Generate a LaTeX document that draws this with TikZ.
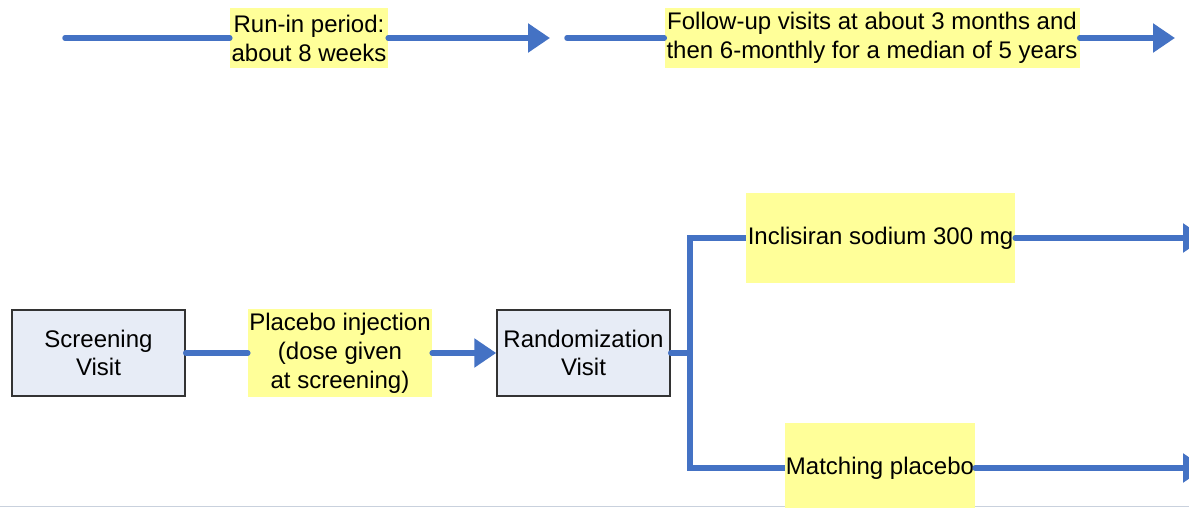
\documentclass[tikz,border=0pt]{standalone}
\usepackage{fontspec}
\setmainfont{Liberation Sans}
\usetikzlibrary{arrows.meta}
\definecolor{flowblue}{HTML}{4472C4}
\definecolor{noteyellow}{HTML}{FFFF99}
\definecolor{visitfill}{HTML}{E7ECF6}
\definecolor{edgegray}{HTML}{C9D1DD}
\begin{document}
\begin{tikzpicture}[x=1pt,y=-1pt,
  flow/.style={draw=flowblue, line width=5.5pt, line cap=round},
  flowarrow/.style={flow, -{Triangle[length=22pt,width=28pt]}},
  note/.style={fill=noteyellow, inner sep=0pt, align=center, font=\fontsize{24}{29}\selectfont},
  visit/.style={draw=black!80, line width=1.5pt, fill=visitfill, align=center,
    font=\fontsize{24}{27.5}\selectfont, minimum width=173pt, minimum height=86pt, inner sep=0pt}]
\useasboundingbox (0,0) rectangle (1189,508);

% bottom edge line
\coordinate (bl) at (0,506.5);
\coordinate (br) at (1189,506.5);
\draw[edgegray, line width=1pt] (bl) -- (br);

% top timeline
\coordinate (s1) at (65,38);
\coordinate (e1) at (550,38);
\coordinate (s2) at (567,38);
\coordinate (e2) at (1175,38);
\node[note, minimum width=158pt, minimum height=60pt] (run) at (309,38) {Run-in period:\\about 8 weeks};
\node[note, minimum width=415pt, minimum height=60pt] (fu) at (872,38) {Follow-up visits at about 3 months and\\then 6-monthly for a median of 5 years};
\draw[flow] (s1) -- (run.west);
\draw[flowarrow] (run.east) -- (e1);
\draw[flow] (s2) -- (fu.west);
\draw[flowarrow] (fu.east) -- (e2);

% lower flow
\node[visit] (scr) at (98.5,353) {Screening\\Visit};
\node[visit] (rand) at (583.5,353) {Randomization\\Visit};
\node[note, minimum width=184pt, minimum height=88pt] (plc) at (340,353) {Placebo injection\\(dose given\\at screening)};
\node[note, minimum width=269pt, minimum height=90pt] (incl) at (880.5,238) {Inclisiran sodium 300 mg};
\node[note, minimum width=190pt, minimum height=90pt] (match) at (880,468) {Matching placebo};

\coordinate (j) at (690,353);
\coordinate (bt) at (690,238);
\coordinate (bb) at (690,468);
\coordinate (ta) at (1205,238);
\coordinate (tb) at (1205,468);

\draw[flow] (scr.east) -- (plc.west);
\draw[flowarrow] (plc.east) -- (rand.west);
\draw[flow] (rand.east) -- (j);
\draw[flow, line cap=butt, line join=miter] (incl.west) -- (bt) -- (bb) -- (match.west);
\draw[flowarrow] (incl.east) -- (ta);
\draw[flowarrow] (match.east) -- (tb);
\end{tikzpicture}
\end{document}
